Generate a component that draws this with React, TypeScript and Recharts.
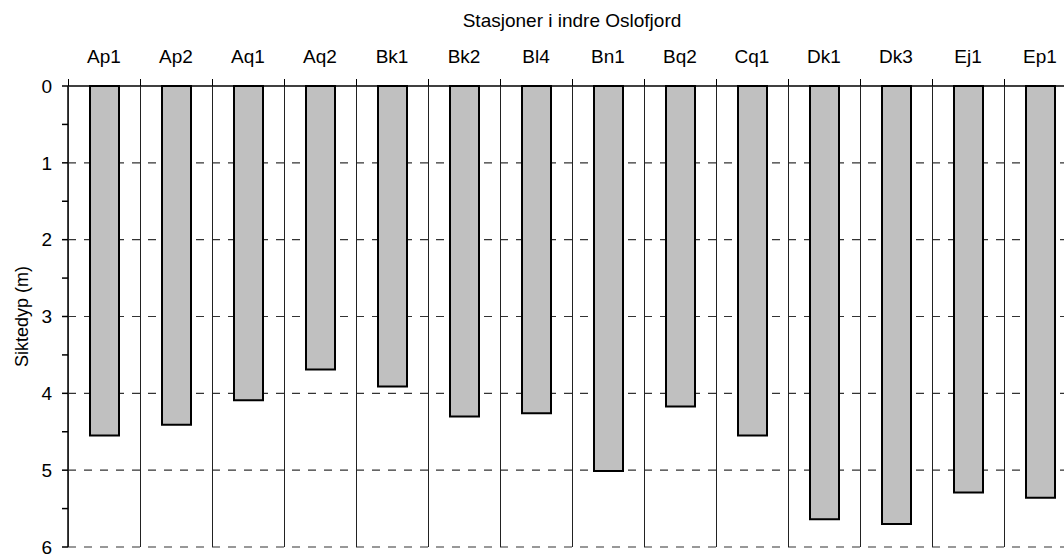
import { BarChart, Bar, XAxis, YAxis, ReferenceLine } from "recharts";

// Siktedyp per stasjon, lest av figuren
const stations = ["Ap1", "Ap2", "Aq1", "Aq2", "Bk1", "Bk2", "Bl4", "Bn1", "Bq2", "Cq1", "Dk1", "Dk3", "Ej1", "Ep1"];
const depths = [4.55, 4.41, 4.09, 3.69, 3.91, 4.3, 4.26, 5.01, 4.17, 4.55, 5.64, 5.7, 5.29, 5.36];
const yTicks = [0, 0.5, 1, 1.5, 2, 2.5, 3, 3.5, 4, 4.5, 5, 5.5, 6];
const gridDepths = [1, 2, 3, 4, 5, 6];
const TITLE = "Stasjoner i indre Oslofjord";
const Y_LABEL = "Siktedyp (m)";

const data = stations.map((station, i) => ({ station, depth: depths[i] }));

const W = 1090;
const H = 554;
const M = { top: 0, right: 14, bottom: 7, left: 0 };
const X_AXIS_H = 86;
const Y_AXIS_W = 68;
const PLOT_W = W - M.left - M.right - Y_AXIS_W;
const PLOT_H = H - M.top - M.bottom - X_AXIS_H;
const HALF = PLOT_W / stations.length / 2;
const FONT = "'Liberation Sans', Arial, sans-serif";

const StationTick = ({ x, y, payload }: any) => {
  const bx = x - HALF + 0.5;
  return (
    <g>
      <text x={x} y={y - 23} textAnchor="middle" fontSize={19} fontFamily={FONT} fill="#000">
        {payload.value}
      </text>
      <line x1={bx} x2={bx} y1={y - 7} y2={y + 6} stroke="#000" strokeWidth={1} />
      <line x1={bx} x2={bx} y1={y} y2={y + PLOT_H} stroke="#222" strokeWidth={1} />
    </g>
  );
};

export default function App() {
  return (
    <div style={{ position: "absolute", left: 0, top: 0, width: 1064, height: 554, overflow: "hidden", background: "#fff" }}>
      <BarChart width={W} height={H} data={data} margin={M} barSize={29}>
        <XAxis
          dataKey="station"
          orientation="top"
          height={X_AXIS_H}
          interval={0}
          tickLine={false}
          tickSize={0}
          tickMargin={0}
          axisLine={{ stroke: "#000", strokeWidth: 1.5 }}
          tick={<StationTick />}
          label={{ value: TITLE, position: "insideTop", offset: 14, fill: "#000", fontSize: 19, fontFamily: FONT }}
        />
        <YAxis
          type="number"
          domain={[0, 6]}
          reversed
          ticks={yTicks}
          interval={0}
          width={Y_AXIS_W}
          tickSize={6}
          tickMargin={10}
          tickFormatter={(v: number) => (Number.isInteger(v) ? String(v) : "")}
          tick={{ fill: "#000", fontSize: 19, fontFamily: FONT }}
          tickLine={{ stroke: "#000", strokeWidth: 1.5 }}
          axisLine={{ stroke: "#000", strokeWidth: 1.5 }}
          label={{
            value: Y_LABEL,
            angle: -90,
            position: "insideLeft",
            offset: 22,
            fill: "#000",
            fontSize: 18,
            fontFamily: FONT,
            style: { textAnchor: "middle" },
          }}
        />
        {gridDepths.map((d) => (
          <ReferenceLine key={d} y={d} stroke="#333" strokeWidth={1.2} strokeDasharray="8 8" zIndex={-50} />
        ))}
        <Bar dataKey="depth" fill="#c0c0c0" stroke="#000" strokeWidth={2} isAnimationActive={false} />
      </BarChart>
    </div>
  );
}
